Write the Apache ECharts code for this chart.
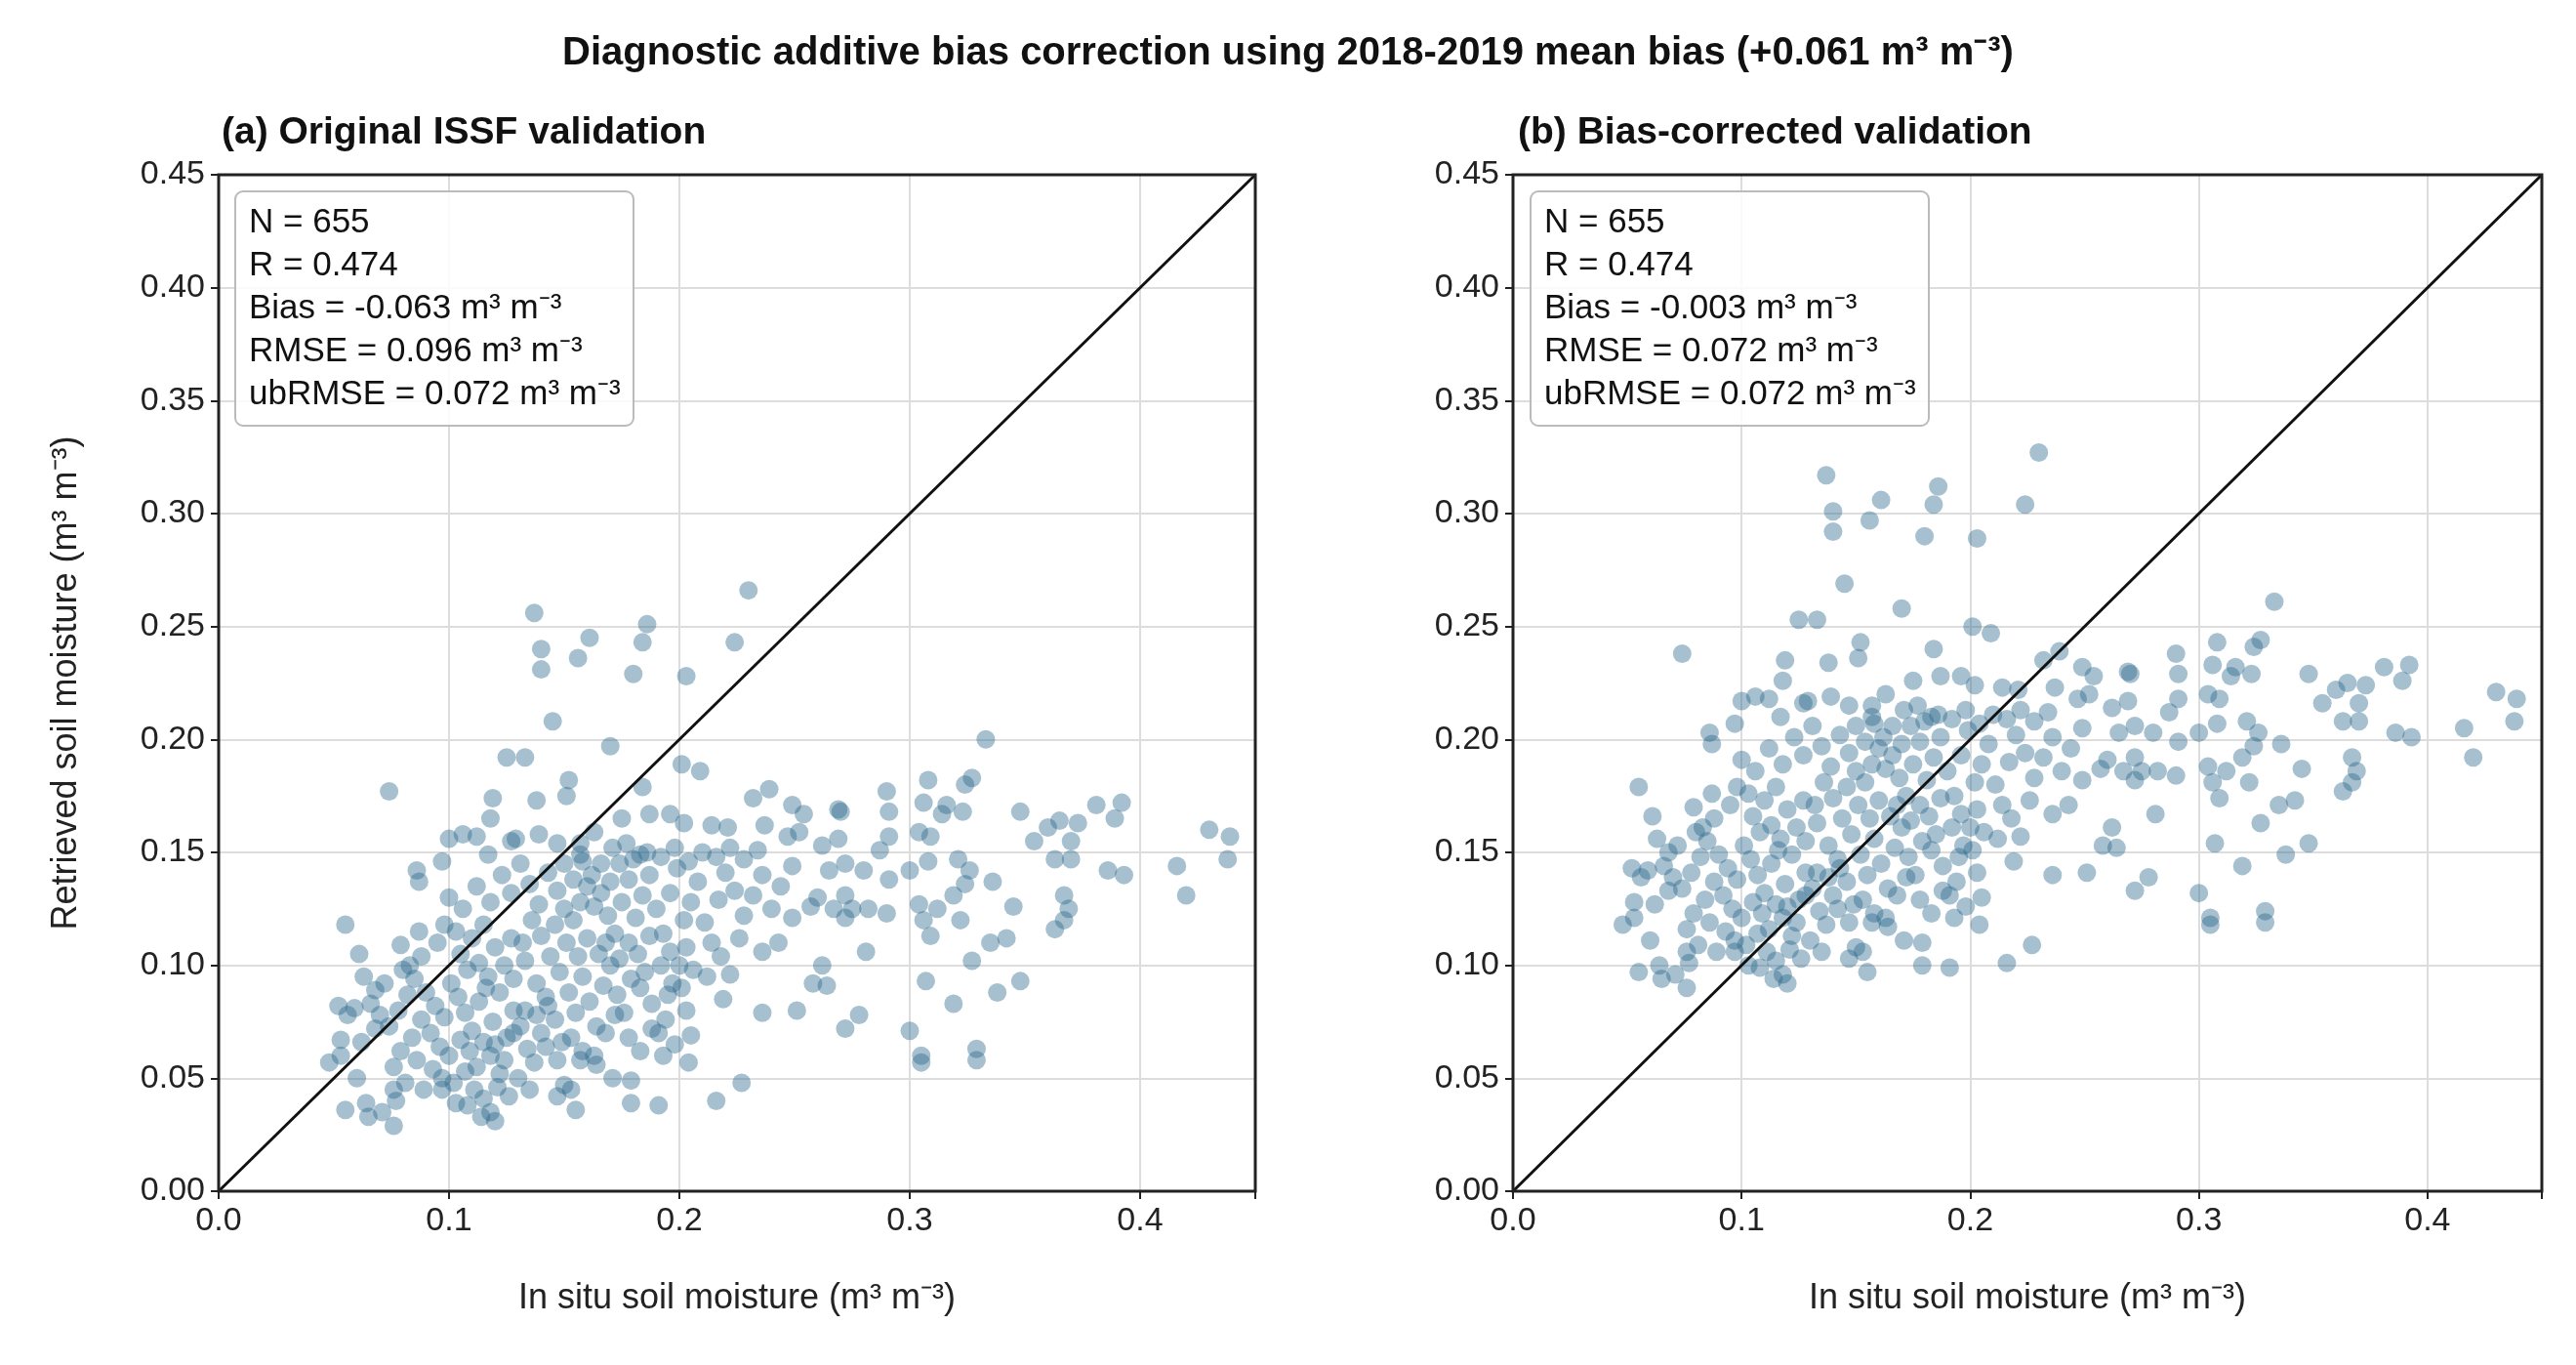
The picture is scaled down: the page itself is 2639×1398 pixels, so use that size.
<!DOCTYPE html>
<html>
<head>
<meta charset="utf-8">
<script src="https://cdn.jsdelivr.net/npm/echarts@6/dist/echarts.min.js"></script>
<style>html,body{margin:0;padding:0;background:#fff}#main{width:2639px;height:1398px}</style>
</head>
<body>
<div id="main"></div>
<script>
// in situ (x) vs original retrieval (y)
var origPoints = [
  [0.230,0.266],[0.137,0.256],[0.161,0.245],[0.186,0.251],[0.184,0.243],[0.224,0.243],
  [0.140,0.240],[0.140,0.231],[0.156,0.236],[0.180,0.229],[0.203,0.228],[0.145,0.208],
  [0.170,0.197],[0.125,0.192],[0.133,0.192],[0.333,0.200],[0.074,0.177],[0.201,0.189],
  [0.209,0.186],[0.152,0.182],[0.184,0.179],[0.308,0.182],[0.327,0.183],[0.324,0.180],
  [0.290,0.177],[0.239,0.178],[0.232,0.174],[0.249,0.171],[0.269,0.169],[0.306,0.172],
  [0.316,0.171],[0.348,0.168],[0.381,0.171],[0.392,0.172],[0.119,0.174],[0.138,0.173],
  [0.151,0.175],[0.118,0.165],[0.175,0.165],[0.187,0.167],[0.196,0.167],[0.202,0.163],
  [0.214,0.162],[0.221,0.161],[0.237,0.162],[0.254,0.167],[0.270,0.168],[0.291,0.168],
  [0.314,0.167],[0.323,0.168],[0.365,0.164],[0.373,0.163],[0.389,0.165],[0.430,0.160],
  [0.439,0.157],[0.438,0.147],[0.416,0.144],[0.420,0.131],[0.386,0.142],[0.393,0.140],
  [0.354,0.155],[0.360,0.161],[0.370,0.155],[0.363,0.147],[0.370,0.147],[0.367,0.131],
  [0.369,0.125],[0.367,0.120],[0.363,0.116],[0.336,0.137],[0.345,0.126],[0.335,0.110],
  [0.342,0.112],[0.327,0.102],[0.338,0.088],[0.348,0.093],[0.319,0.131],[0.324,0.136],
  [0.326,0.142],[0.321,0.147],[0.308,0.146],[0.304,0.159],[0.309,0.157],[0.291,0.157],
  [0.300,0.142],[0.291,0.138],[0.304,0.127],[0.306,0.120],[0.309,0.113],[0.312,0.125],
  [0.322,0.120],[0.307,0.093],[0.319,0.083],[0.300,0.071],[0.305,0.060],[0.305,0.057],
  [0.329,0.063],[0.329,0.058],[0.287,0.151],[0.280,0.142],[0.272,0.131],[0.275,0.125],
  [0.282,0.125],[0.290,0.123],[0.281,0.106],[0.265,0.142],[0.272,0.145],[0.262,0.153],
  [0.269,0.156],[0.260,0.130],[0.257,0.126],[0.267,0.125],[0.272,0.121],[0.262,0.100],
  [0.258,0.092],[0.264,0.091],[0.272,0.072],[0.278,0.078],[0.251,0.080],[0.236,0.079],
  [0.249,0.144],[0.249,0.121],[0.243,0.110],[0.236,0.106],[0.252,0.159],[0.247,0.157],
  [0.222,0.096],[0.219,0.085],[0.203,0.080],[0.205,0.069],[0.204,0.057],[0.227,0.048],
  [0.216,0.040],[0.191,0.038],[0.179,0.039],[0.179,0.049],[0.171,0.050],[0.164,0.056],
  [0.157,0.058],[0.150,0.047],[0.147,0.042],[0.153,0.045],[0.155,0.036],[0.118,0.035],
  [0.120,0.031],[0.114,0.033],[0.108,0.038],[0.103,0.039],[0.097,0.045],[0.089,0.045],
  [0.081,0.048],[0.076,0.045],[0.077,0.040],[0.076,0.029],[0.071,0.035],[0.064,0.039],
  [0.055,0.036],[0.065,0.033],[0.048,0.057],[0.053,0.060],[0.060,0.050],[0.056,0.078],
  [0.052,0.082],[0.059,0.081],[0.053,0.067],[0.062,0.066],[0.068,0.072],[0.055,0.118],
  [0.061,0.105],[0.063,0.095],[0.068,0.089],[0.079,0.109],[0.083,0.100],[0.088,0.104],
  [0.087,0.115],[0.086,0.142],[0.087,0.137],[0.097,0.146],[0.100,0.156],[0.106,0.158],
  [0.112,0.157],[0.117,0.149],[0.127,0.155],[0.129,0.156],[0.139,0.158],[0.147,0.154],
  [0.157,0.149],[0.163,0.159],[0.157,0.154],[0.171,0.152],[0.177,0.154],[0.183,0.149],
  [0.090,0.088],[0.094,0.082],[0.098,0.077],[0.101,0.092],[0.104,0.086],[0.107,0.079],
  [0.110,0.071],[0.113,0.084],[0.116,0.090],[0.119,0.075],[0.092,0.070],[0.096,0.064],
  [0.100,0.060],[0.105,0.067],[0.109,0.062],[0.112,0.055],[0.115,0.066],[0.118,0.060],
  [0.122,0.052],[0.125,0.068],[0.128,0.080],[0.131,0.073],[0.134,0.063],[0.137,0.057],
  [0.140,0.070],[0.143,0.082],[0.146,0.076],[0.149,0.066],[0.152,0.088],[0.155,0.079],
  [0.158,0.095],[0.161,0.084],[0.164,0.073],[0.167,0.091],[0.170,0.100],[0.173,0.087],
  [0.176,0.079],[0.179,0.094],[0.182,0.105],[0.185,0.097],[0.188,0.083],[0.191,0.070],
  [0.194,0.076],[0.197,0.092],[0.200,0.100],[0.203,0.108],[0.085,0.094],[0.082,0.087],
  [0.078,0.080],[0.074,0.073],[0.070,0.078],[0.066,0.083],[0.072,0.092],[0.080,0.098],
  [0.088,0.076],[0.084,0.068],[0.079,0.062],[0.076,0.055],[0.086,0.058],[0.093,0.054],
  [0.097,0.050],[0.102,0.048],[0.107,0.053],[0.111,0.045],[0.115,0.041],[0.121,0.046],
  [0.126,0.042],[0.130,0.050],[0.135,0.045],[0.105,0.105],[0.110,0.112],[0.115,0.118],
  [0.120,0.108],[0.124,0.100],[0.128,0.094],[0.132,0.110],[0.136,0.120],[0.140,0.113],
  [0.144,0.104],[0.148,0.097],[0.151,0.110],[0.154,0.120],[0.157,0.128],[0.160,0.135],
  [0.163,0.126],[0.166,0.132],[0.169,0.122],[0.172,0.114],[0.175,0.128],[0.178,0.138],
  [0.181,0.121],[0.184,0.131],[0.187,0.140],[0.190,0.125],[0.193,0.114],[0.196,0.132],
  [0.199,0.143],[0.202,0.120],[0.205,0.128],[0.208,0.137],[0.211,0.119],[0.214,0.110],
  [0.217,0.129],[0.220,0.141],[0.224,0.133],[0.228,0.122],[0.232,0.131],[0.236,0.140],
  [0.240,0.125],[0.244,0.135],[0.100,0.130],[0.106,0.125],[0.112,0.135],[0.118,0.128],
  [0.123,0.140],[0.127,0.132],[0.131,0.145],[0.135,0.136],[0.139,0.127],[0.143,0.141],
  [0.147,0.133],[0.150,0.145],[0.154,0.138],[0.158,0.146],[0.162,0.140],[0.166,0.145],
  [0.170,0.137],[0.174,0.145],[0.180,0.147],[0.186,0.150],[0.192,0.148],[0.198,0.152],
  [0.204,0.146],[0.210,0.150],[0.216,0.148],[0.222,0.152],[0.228,0.147],[0.234,0.151],
  [0.095,0.110],[0.098,0.118],[0.103,0.115],[0.108,0.098],[0.113,0.101],[0.117,0.095],
  [0.122,0.088],[0.127,0.112],[0.133,0.102],[0.138,0.092],[0.142,0.086],[0.146,0.118],
  [0.150,0.125],[0.156,0.104],[0.160,0.112],[0.165,0.105],[0.168,0.110],[0.174,0.103],
  [0.178,0.110],[0.183,0.090],[0.187,0.113],[0.192,0.100],[0.196,0.106],[0.201,0.090],
  [0.206,0.098],[0.212,0.095],[0.218,0.104],[0.226,0.112],[0.120,0.065],[0.124,0.058],
  [0.128,0.070],[0.133,0.080],[0.138,0.078],[0.142,0.064],[0.147,0.058],[0.153,0.068],
  [0.158,0.062],[0.163,0.060],[0.168,0.070],[0.172,0.078],[0.178,0.068],[0.183,0.062],
  [0.188,0.072],[0.193,0.060],[0.198,0.065],[0.195,0.087]
];
// additive bias correction applied in panel (b)
var meanBias = 0.061;
var correctedPoints = origPoints.map(function (p) { return [p[0], +(p[1] + meanBias).toFixed(3)]; });

var statsA = ['N = 655', 'R = 0.474', 'Bias = -0.063 m³ m⁻³', 'RMSE = 0.096 m³ m⁻³', 'ubRMSE = 0.072 m³ m⁻³'];
var statsB = ['N = 655', 'R = 0.474', 'Bias = -0.003 m³ m⁻³', 'RMSE = 0.072 m³ m⁻³', 'ubRMSE = 0.072 m³ m⁻³'];
var oneToOne = [[0, 0], [0.45, 0.45]];

var FONT = '"Liberation Sans", Arial, sans-serif';
var grids = [
    {left: 224, top: 179, width: 1062, height: 1041},
    {left: 1550, top: 179, width: 1054, height: 1041}
];

function xAxisFor(i) {
    return {
        type: 'value', gridIndex: i, min: 0, max: 0.45, interval: 0.1,
        name: 'In situ soil moisture (m³ m⁻³)', nameLocation: 'middle', nameGap: 92,
        nameTextStyle: {fontSize: 36, color: '#222', fontFamily: FONT},
        axisLine: {show: false},
        axisTick: {show: true, length: 8, lineStyle: {color: '#222', width: 2}},
        axisLabel: {fontSize: 34, color: '#222', fontFamily: FONT, margin: 14,
            formatter: function (v) { return Math.abs(v * 10 - Math.round(v * 10)) < 1e-6 ? v.toFixed(1) : ''; }},
        splitLine: {lineStyle: {color: '#dddddd', width: 2}}
    };
}
function yAxisFor(i) {
    return {
        type: 'value', gridIndex: i, min: 0, max: 0.45, interval: 0.05,
        name: i === 0 ? 'Retrieved soil moisture (m³ m⁻³)' : '', nameLocation: 'middle', nameGap: 138,
        nameTextStyle: {fontSize: 36, color: '#222', fontFamily: FONT},
        axisLine: {show: false},
        axisTick: {show: true, length: 8, lineStyle: {color: '#222', width: 2}},
        axisLabel: {fontSize: 34, color: '#222', fontFamily: FONT, margin: 14,
            formatter: function (v) { return v.toFixed(2); }},
        splitLine: {lineStyle: {color: '#dddddd', width: 2}}
    };
}
function statsBox(lines, left) {
    return {
        text: lines.join('\n'), left: left, top: 196,
        padding: [10, 14, 10, 14], borderColor: '#bbbbbb', borderWidth: 2, borderRadius: 8,
        backgroundColor: 'rgba(255,255,255,0.85)',
        textStyle: {fontSize: 35, fontWeight: 'normal', color: '#111', fontFamily: FONT, lineHeight: 44}
    };
}

var myChart = echarts.init(document.getElementById('main'));
var option = {
    animation: false,
    backgroundColor: '#fff',
    title: [
        {text: 'Diagnostic additive bias correction using 2018-2019 mean bias (+0.061 m³ m⁻³)',
         left: 'center', top: 30, textStyle: {fontSize: 40, fontWeight: 'bold', color: '#111', fontFamily: FONT}},
        {text: '(a) Original ISSF validation', left: 222, top: 112,
         textStyle: {fontSize: 39, fontWeight: 'bold', color: '#111', fontFamily: FONT}},
        {text: '(b) Bias-corrected validation', left: 1550, top: 112,
         textStyle: {fontSize: 39, fontWeight: 'bold', color: '#111', fontFamily: FONT}},
        statsBox(statsA, 241),
        statsBox(statsB, 1568)
    ],
    grid: grids,
    graphic: grids.map(function (g) {
        return {type: 'rect', z: 100, silent: true,
            shape: {x: g.left, y: g.top, width: g.width, height: g.height},
            style: {fill: 'none', stroke: '#222', lineWidth: 3}};
    }),
    xAxis: [xAxisFor(0), xAxisFor(1)],
    yAxis: [yAxisFor(0), yAxisFor(1)],
    series: [
        {type: 'scatter', xAxisIndex: 0, yAxisIndex: 0, data: origPoints, symbolSize: 19,
         itemStyle: {color: '#2c6a8d', opacity: 0.42}, z: 2},
        {type: 'scatter', xAxisIndex: 1, yAxisIndex: 1, data: correctedPoints, symbolSize: 19,
         itemStyle: {color: '#2c6a8d', opacity: 0.42}, z: 2},
        {type: 'line', xAxisIndex: 0, yAxisIndex: 0, data: oneToOne, symbol: 'none',
         lineStyle: {color: '#111', width: 3}, z: 3},
        {type: 'line', xAxisIndex: 1, yAxisIndex: 1, data: oneToOne, symbol: 'none',
         lineStyle: {color: '#111', width: 3}, z: 3}
    ]
};
myChart.setOption(option);
</script>
</body>
</html>
